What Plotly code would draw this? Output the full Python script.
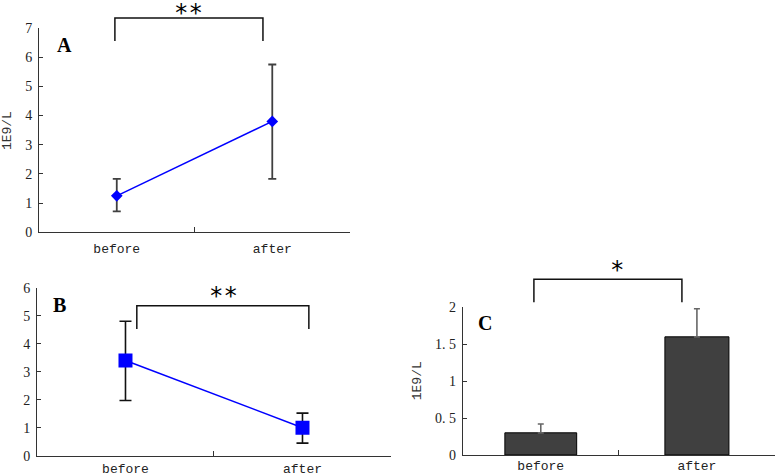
import plotly.graph_objects as go

categories = ["before", "after"]

a_mean = [1.25, 3.8]
a_low = [0.72, 1.83]
a_high = [1.83, 5.75]

b_mean = [3.4, 1.0]
b_low = [1.97, 0.45]
b_high = [4.8, 1.52]

c_mean = [0.3, 1.6]
c_high = [0.42, 1.98]

a_ticks = [0, 1, 2, 3, 4, 5, 6, 7]
b_ticks = [0, 1, 2, 3, 4, 5, 6]
c_ticks = [0, 0.5, 1, 1.5, 2]
c_ticktext = ["0", "0. 5", "1", "1. 5", "2"]

BLUE = "#0000ff"
AX = "#333333"

fig = go.Figure()

fig.add_trace(go.Scatter(
    x=categories, y=a_mean, xaxis="x", yaxis="y", mode="lines+markers",
    line=dict(color=BLUE, width=1.5),
    marker=dict(symbol="diamond", size=9, color=BLUE),
    error_y=dict(type="data", symmetric=False,
                 array=[h - m for h, m in zip(a_high, a_mean)],
                 arrayminus=[m - l for m, l in zip(a_mean, a_low)],
                 color="#404040", thickness=1.8, width=4),
    showlegend=False))

fig.add_trace(go.Scatter(
    x=categories, y=b_mean, xaxis="x2", yaxis="y2", mode="lines+markers",
    line=dict(color=BLUE, width=1.5),
    marker=dict(symbol="square", size=14, color=BLUE),
    error_y=dict(type="data", symmetric=False,
                 array=[h - m for h, m in zip(b_high, b_mean)],
                 arrayminus=[m - l for m, l in zip(b_mean, b_low)],
                 color="#111111", thickness=1.6, width=6),
    showlegend=False))

fig.add_trace(go.Bar(
    x=categories, y=c_mean, xaxis="x3", yaxis="y3",
    width=[0.46, 0.41],
    marker=dict(color="#404040", line=dict(color="#000000", width=1)),
    error_y=dict(type="data", symmetric=False,
                 array=[h - m for h, m in zip(c_high, c_mean)],
                 arrayminus=[0, 0],
                 color="#666666", thickness=1.6, width=3),
    showlegend=False))

xcommon = dict(type="category", range=[-0.5, 1.5], showline=True, linecolor=AX,
               linewidth=1, ticks="inside", tickson="boundaries", ticklen=5,
               tickcolor=AX, showgrid=False, zeroline=False, automargin=False,
               tickfont=dict(family="Liberation Mono", size=13, color="#222222"))
ycommon = dict(showline=True, linecolor=AX, linewidth=1, ticks="inside",
               ticklen=4, tickcolor=AX, showgrid=False, zeroline=False, automargin=False,
               tickfont=dict(family="Liberation Serif", size=14, color="#222222"))

fig.update_layout(
    template="none",
    width=777, height=473, margin=dict(l=0, r=0, t=0, b=0),
    paper_bgcolor="white", plot_bgcolor="white",
    xaxis=dict(domain=[0.0502, 0.4505], anchor="y", ticklabelstandoff=4, **xcommon),
    yaxis=dict(domain=[0.5089, 0.9408], anchor="x", range=[0, 7], tickvals=a_ticks,
               ticklabelstandoff=3, **ycommon),
    xaxis2=dict(domain=[0.0476, 0.5032], anchor="y2", ticklabelstandoff=1, **xcommon),
    yaxis2=dict(domain=[0.0366, 0.3918], anchor="x2", range=[0, 6], tickvals=b_ticks,
                ticklabelstandoff=3, **ycommon),
    xaxis3=dict(domain=[0.5955, 0.9974], anchor="y3", ticklabelstandoff=-2, **xcommon),
    yaxis3=dict(domain=[0.0381, 0.3503], anchor="x3", range=[0, 2], tickvals=c_ticks,
                ticktext=c_ticktext, ticklabelstandoff=3, **ycommon),
)

def bracket(xr, yr, x0, x1, ytop, ybot):
    fig.add_shape(type="path", xref=xr, yref=yr,
                  path=f"M {x0},{ybot} L {x0},{ytop} L {x1},{ytop} L {x1},{ybot}",
                  line=dict(color="#111111", width=1.5))

bracket("x domain", "y domain", 0.244, 0.720, 1.049, 0.936)
bracket("x2 domain", "y2 domain", 0.282, 0.768, 0.893, 0.754)
bracket("x3 domain", "y3 domain", 0.228, 0.702, 1.190, 1.034)

def note(xr, yr, x, y, text, font, **kw):
    fig.add_annotation(xref=xr, yref=yr, x=x, y=y, text=text, showarrow=False,
                       xanchor="center", yanchor="middle", font=font, **kw)

star_font = dict(family="DejaVu Sans Mono", size=24, color="#000000")
note("x domain", "y domain", 0.482, 1.071, "**", star_font)
note("x2 domain", "y2 domain", 0.528, 0.951, "**", star_font)
note("x3 domain", "y3 domain", 0.493, 1.253, "*", star_font)

lab_font = dict(family="Liberation Serif", size=20, color="#000000")
note("x domain", "y domain", 0.082, 0.917, "<b>A</b>", lab_font)
note("x2 domain", "y2 domain", 0.065, 0.894, "<b>B</b>", lab_font)
note("x3 domain", "y3 domain", 0.071, 0.892, "<b>C</b>", lab_font)

yt_font = dict(family="Liberation Mono", size=13, color="#333333")
note("x domain", "y domain", -0.103, 0.5, "1E9/L", yt_font, textangle=-90)
note("x3 domain", "y3 domain", -0.146, 0.5, "1E9/L", yt_font, textangle=-90)

fig.write_html("out.html", config={"displayModeBar": False},
               post_script="document.body.style.margin='0';document.body.style.overflow='hidden';")
